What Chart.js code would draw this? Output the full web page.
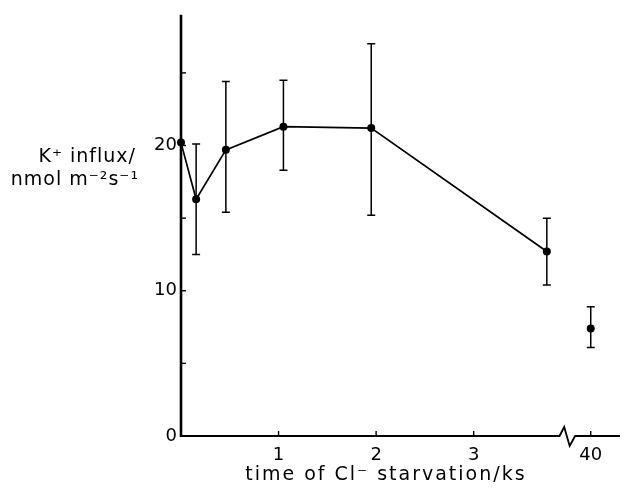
<!DOCTYPE html>
<html>
<head>
<meta charset="utf-8">
<script src="https://cdn.jsdelivr.net/npm/chart.js@4/dist/chart.umd.min.js"></script>
<style>
  html, body { margin: 0; padding: 0; background: #fff; }
  #wrap { width: 624px; height: 488px; }
</style>
</head>
<body>
<div id="wrap"><canvas id="myChart"></canvas></div>
<script>
// data (time in ks, K+ influx in nmol m-2 s-1)
const times = [0, 0.155, 0.46, 1.05, 1.95, 3.75];
const influx = [20.2, 16.3, 19.7, 21.3, 21.2, 12.7];
const upper = [null, 20.1, 24.4, 24.5, 27.0, 15.0];
const lower = [null, 12.5, 15.4, 18.3, 15.2, 10.4];

const lateTimes = [40];
const lateInflux = [7.4];
const lateUpper = [8.9];
const lateLower = [6.1];

const xTicks = [1, 2, 3, 40];
const yTicks = [0, 5, 10, 15, 20, 25];
const yLabelled = [0, 10, 20];

const FONT = "DejaVu Sans";

// broken time axis: everything past the break is squeezed next to it
const breakAt = 4.1;
const afterBreak = 4.2;
const squash = (v) => (v > breakAt ? afterBreak + (v - 40) * 0.01 : v);

class BrokenScale extends Chart.LinearScale {
    getPixelForValue(value) {
        return super.getPixelForValue(squash(value));
    }
}
BrokenScale.id = "broken";
BrokenScale.defaults = Chart.LinearScale.defaults;
Chart.register(BrokenScale);

const toPoints = (xs, ys) => xs.map((x, i) => ({ x: x, y: ys[i] }));

// error bars, axes with inward ticks and the free text
const drawing = {
    id: "drawing",
    afterDatasetsDraw(chart) {
        const ctx = chart.ctx;
        const xs = chart.scales.x;
        const ys = chart.scales.y;
        ctx.save();
        ctx.strokeStyle = "#000";
        ctx.fillStyle = "#000";

        // error bars
        const bars = (tx, hi, lo) => {
            tx.forEach((t, i) => {
                if (hi[i] == null) return;
                const px = xs.getPixelForValue(t);
                const top = ys.getPixelForValue(hi[i]);
                const bot = ys.getPixelForValue(lo[i]);
                ctx.lineWidth = 1.5;
                ctx.beginPath();
                ctx.moveTo(px, top); ctx.lineTo(px, bot);
                ctx.moveTo(px - 4, top); ctx.lineTo(px + 4, top);
                ctx.moveTo(px - 4, bot); ctx.lineTo(px + 4, bot);
                ctx.stroke();
            });
        };
        bars(times, upper, lower);
        bars(lateTimes, lateUpper, lateLower);

        const area = chart.chartArea;
        const y0 = ys.getPixelForValue(0);
        const x0 = xs.getPixelForValue(0);

        // y axis
        ctx.lineWidth = 2.6;
        ctx.beginPath();
        ctx.moveTo(x0, y0 + 1);
        ctx.lineTo(x0, area.top);
        ctx.stroke();
        ctx.lineWidth = 1.4;
        yTicks.forEach((v) => {
            if (v === 0) return;
            const py = ys.getPixelForValue(v);
            ctx.beginPath();
            ctx.moveTo(x0, py); ctx.lineTo(x0 + 5, py);
            ctx.stroke();
        });

        // x axis with break zigzag
        const b1 = xs.getPixelForValue(3.88);
        const b2 = xs.getPixelForValue(4.04);
        const w = b2 - b1;
        ctx.lineWidth = 1.8;
        ctx.beginPath();
        ctx.moveTo(x0, y0);
        ctx.lineTo(b1, y0);
        ctx.lineTo(b1 + w * 0.3, y0 - 9);
        ctx.lineTo(b1 + w * 0.65, y0 + 10);
        ctx.lineTo(b2, y0);
        ctx.lineTo(area.right, y0);
        ctx.stroke();
        ctx.lineWidth = 1.4;
        xTicks.forEach((v) => {
            const px = xs.getPixelForValue(v);
            ctx.beginPath();
            ctx.moveTo(px, y0); ctx.lineTo(px, y0 - 5);
            ctx.stroke();
        });

        // axis titles
        ctx.font = "19px " + FONT;
        ctx.textBaseline = "middle";
        ctx.textAlign = "right";
        ctx.letterSpacing = "1px";
        const yTitleAt = ys.getPixelForValue(20);
        ctx.fillText("K\u207A influx/", 136, yTitleAt + 12);
        ctx.fillText("nmol m\u207B\u00B2s\u207B\u00B9", 139, yTitleAt + 35);
        ctx.textAlign = "center";
        ctx.letterSpacing = "2px";
        ctx.fillText("time of Cl\u207B starvation/ks", xs.getPixelForValue(2.1), y0 + 39);
        ctx.restore();
    },
};

const config = {
    type: "scatter",
    data: {
        datasets: [
            {
                data: toPoints(times, influx),
                showLine: true,
                clip: false,
                borderColor: "#000",
                backgroundColor: "#000",
                borderWidth: 1.7,
                pointRadius: 4,
                pointBorderWidth: 0,
            },
            {
                data: toPoints(lateTimes, lateInflux),
                showLine: false,
                clip: false,
                borderColor: "#000",
                backgroundColor: "#000",
                pointRadius: 4,
                pointBorderWidth: 0,
            },
        ],
    },
    options: {
        responsive: true,
        maintainAspectRatio: false,
        animation: false,
        layout: { padding: { top: 5, right: 4, left: 0, bottom: 0 } },
        plugins: { legend: { display: false }, tooltip: { enabled: false } },
        scales: {
            x: {
                type: "broken",
                min: 0,
                max: 4.5,
                afterBuildTicks: (axis) => {
                    axis.ticks = xTicks.map((v) => ({ value: v }));
                },
                afterFit: (axis) => { axis.height = 52; },
                grid: { display: false, drawTicks: false },
                border: { display: false },
                ticks: {
                    autoSkip: false,
                    maxRotation: 0,
                    padding: 9,
                    color: "#000",
                    font: { family: FONT, size: 18 },
                    callback: (v) => String(v),
                },
            },
            y: {
                min: 0,
                max: 29,
                afterBuildTicks: (axis) => {
                    axis.ticks = yTicks.map((v) => ({ value: v }));
                },
                afterFit: (axis) => { axis.width = 181; },
                grid: { display: false, drawTicks: false },
                border: { display: false },
                ticks: {
                    padding: 4,
                    color: "#000",
                    font: { family: FONT, size: 18 },
                    callback: (v) => (yLabelled.includes(v) ? String(v) : ""),
                },
            },
        },
    },
    plugins: [drawing],
};

const myChart = new Chart(document.querySelector("#myChart"), config);
</script>
</body>
</html>
